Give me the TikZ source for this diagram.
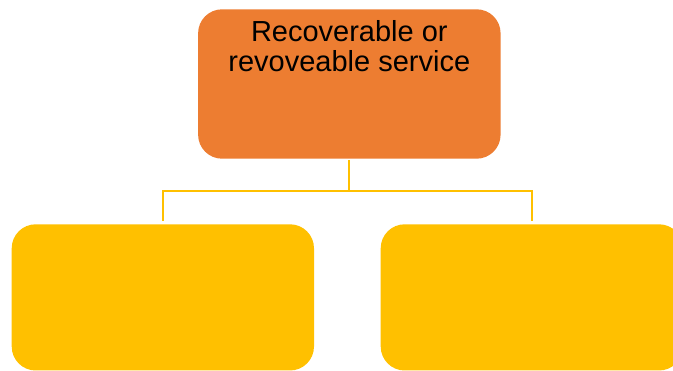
\documentclass[tikz,border=0pt]{standalone}
\usepackage{fontspec}
\setmainfont{Liberation Sans}
\definecolor{boxorange}{HTML}{ED7D31}
\definecolor{boxyellow}{HTML}{FFC000}
\begin{document}
\begin{tikzpicture}[x=1pt,y=-1pt,
  card/.style={rectangle, rounded corners=24pt, inner sep=0pt, draw=none},
  conn/.style={draw=boxyellow, line width=1.8pt}]
\useasboundingbox (0,0) rectangle (673,371);
\node[card, fill=boxorange] (top) at (349.35,84) {\parbox[c][149.4pt][t]{302.5pt}{\centering\fontsize{29pt}{30pt}\selectfont\vspace*{11pt}Recoverable or\\revoveable service}};
\node[card, fill=boxyellow, minimum width=302.3pt, minimum height=146.2pt] (left) at (162.85,297.4) {};
\node[card, fill=boxyellow, minimum width=302.3pt, minimum height=146.2pt] (right) at (531.85,297.4) {};
\coordinate (bus) at (349.35,190.7);
\draw[conn, shorten <=1.5pt] (top.south) -- (bus);
\draw[conn, shorten >=3pt] (bus) -| (left.north);
\draw[conn, shorten >=3pt] (bus) -| (right.north);
\end{tikzpicture}
\end{document}
